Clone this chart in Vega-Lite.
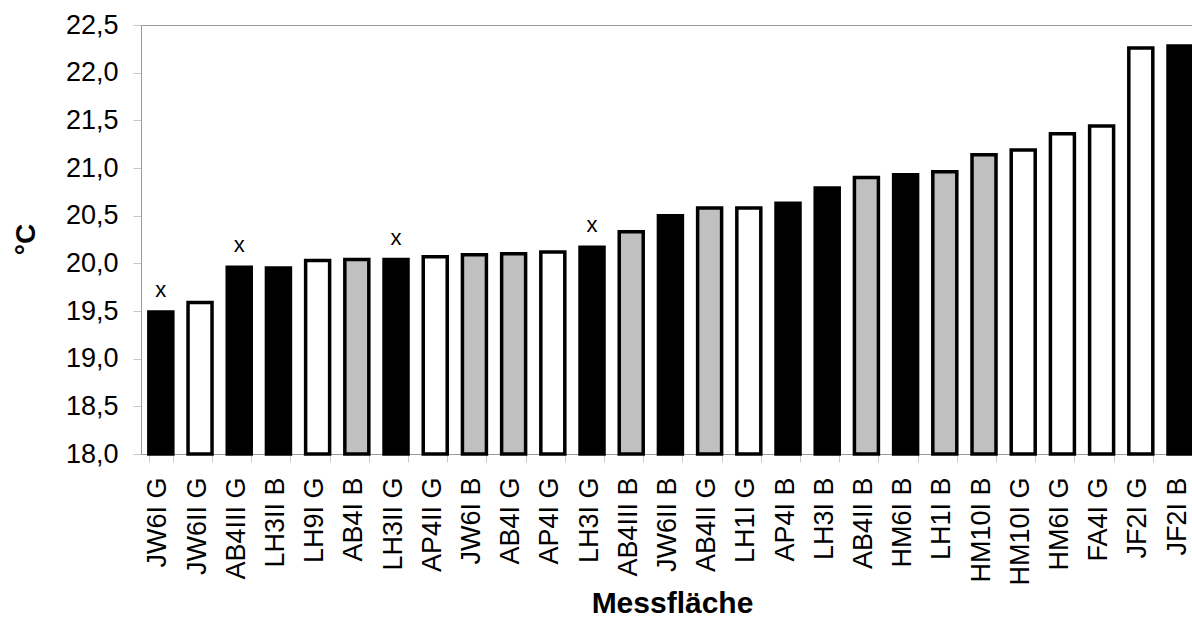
{
  "$schema": "https://vega.github.io/schema/vega-lite/v6.json",
  "width": 1051,
  "height": 429,
  "autosize": {"type": "none"},
  "padding": {"left": 141, "top": 25, "right": 0, "bottom": 165},
  "background": "white",
  "config": {
    "view": {"stroke": "#9a9a9a", "strokeWidth": 1},
    "font": "Liberation Sans"
  },
  "data": {
    "values": [
      {"label": "JW6I G", "value": 19.49, "gruppe": "schwarz", "flag": "x"},
      {"label": "JW6II G", "value": 19.59, "gruppe": "weiss", "flag": ""},
      {"label": "AB4III G", "value": 19.96, "gruppe": "schwarz", "flag": "x"},
      {"label": "LH3II B", "value": 19.95, "gruppe": "schwarz", "flag": ""},
      {"label": "LH9I G", "value": 20.03, "gruppe": "weiss", "flag": ""},
      {"label": "AB4I B", "value": 20.04, "gruppe": "grau", "flag": ""},
      {"label": "LH3II G", "value": 20.04, "gruppe": "schwarz", "flag": "x"},
      {"label": "AP4II G", "value": 20.07, "gruppe": "weiss", "flag": ""},
      {"label": "JW6I B", "value": 20.09, "gruppe": "grau", "flag": ""},
      {"label": "AB4I G", "value": 20.10, "gruppe": "grau", "flag": ""},
      {"label": "AP4I G", "value": 20.12, "gruppe": "weiss", "flag": ""},
      {"label": "LH3I G", "value": 20.17, "gruppe": "schwarz", "flag": "x"},
      {"label": "AB4III B", "value": 20.33, "gruppe": "grau", "flag": ""},
      {"label": "JW6II B", "value": 20.50, "gruppe": "schwarz", "flag": ""},
      {"label": "AB4II G", "value": 20.58, "gruppe": "grau", "flag": ""},
      {"label": "LH1I G", "value": 20.58, "gruppe": "weiss", "flag": ""},
      {"label": "AP4I B", "value": 20.63, "gruppe": "schwarz", "flag": ""},
      {"label": "LH3I B", "value": 20.79, "gruppe": "schwarz", "flag": ""},
      {"label": "AB4II B", "value": 20.90, "gruppe": "grau", "flag": ""},
      {"label": "HM6I B", "value": 20.93, "gruppe": "schwarz", "flag": ""},
      {"label": "LH1I B", "value": 20.96, "gruppe": "grau", "flag": ""},
      {"label": "HM10I B", "value": 21.14, "gruppe": "grau", "flag": ""},
      {"label": "HM10I G", "value": 21.19, "gruppe": "weiss", "flag": ""},
      {"label": "HM6I G", "value": 21.36, "gruppe": "weiss", "flag": ""},
      {"label": "FA4I G", "value": 21.44, "gruppe": "weiss", "flag": ""},
      {"label": "JF2I G", "value": 22.26, "gruppe": "weiss", "flag": ""},
      {"label": "JF2I B", "value": 22.28, "gruppe": "schwarz", "flag": ""}
    ]
  },
  "encoding": {
    "x": {
      "field": "label",
      "type": "nominal",
      "sort": null,
      "scale": {"paddingInner": 0.388, "paddingOuter": 0.1, "align": 1},
      "axis": {
        "title": "Messfläche",
        "titleFontSize": 30,
        "titleFontWeight": "bold",
        "titleColor": "black",
        "titleX": 531,
        "titleY": 158,
        "titleAlign": "center",
        "titleBaseline": "alphabetic",
        "labelAngle": -90,
        "labelAlign": "right",
        "labelBaseline": "middle",
        "labelFontSize": 27,
        "labelColor": "black",
        "labelPadding": 15,
        "labelOffset": -3,
        "labelOverlap": false,
        "labelBound": false,
        "labelFlush": false,
        "tickSize": 8,
        "tickBand": "extent",
        "tickColor": "#c8c8c8",
        "domainColor": "#9a9a9a",
        "grid": false
      }
    }
  },
  "layer": [
    {
      "mark": {"type": "bar", "stroke": "black", "strokeWidth": 3.5},
      "encoding": {
        "y": {
          "field": "value",
          "type": "quantitative",
          "scale": {"domain": [18, 22.5], "zero": false, "nice": false},
          "axis": {
            "title": "°C",
            "values": [18, 18.5, 19, 19.5, 20, 20.5, 21, 21.5, 22, 22.5],
            "labelExpr": "replace(format(datum.value, '.1f'), '.', ',')",
            "labelFontSize": 27,
            "labelColor": "black",
            "labelPadding": 15,
            "tickSize": 8,
            "tickColor": "#c8c8c8",
            "domainColor": "#9a9a9a",
            "grid": false,
            "titleFontSize": 28,
            "titleFontWeight": "bold",
            "titleColor": "black",
            "titleAngle": -90,
            "titleX": -115,
            "titleY": 214,
            "titleAlign": "center",
            "titleBaseline": "middle"
          }
        },
        "y2": {"datum": 18},
        "fill": {
          "field": "gruppe",
          "type": "nominal",
          "scale": {"domain": ["schwarz", "weiss", "grau"], "range": ["#000000", "#ffffff", "#c0c0c0"]},
          "legend": null
        }
      }
    },
    {
      "mark": {"type": "text", "dy": -15, "baseline": "alphabetic", "align": "center", "fontSize": 22, "color": "black"},
      "encoding": {
        "y": {"field": "value", "type": "quantitative"},
        "text": {"field": "flag"}
      }
    }
  ]
}
